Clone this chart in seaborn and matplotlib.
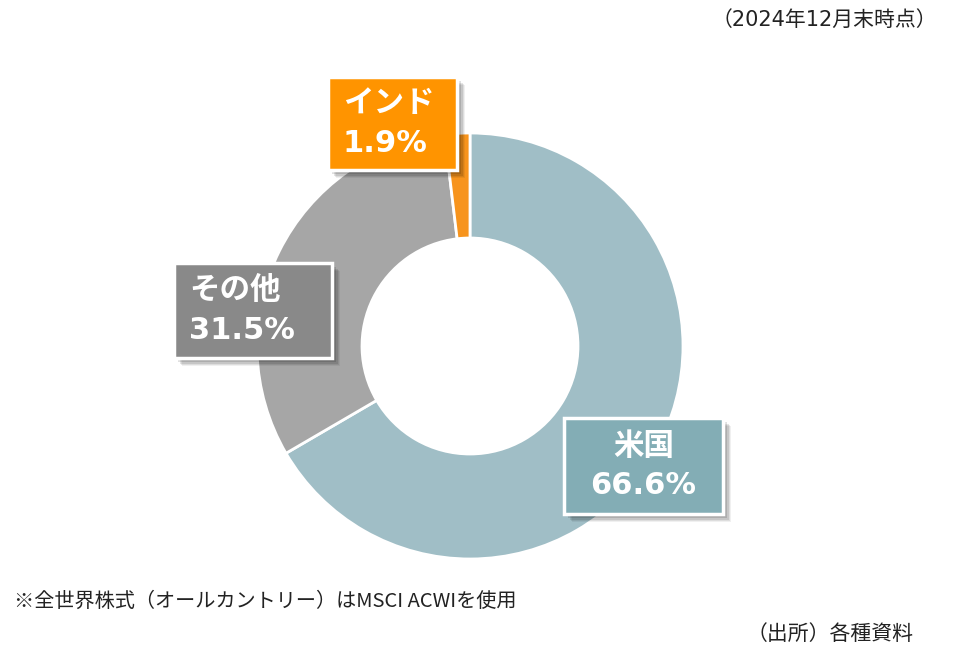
import matplotlib.pyplot as plt
import matplotlib.patheffects as pe
from matplotlib.patches import Rectangle
import seaborn as sns

sns.set_theme(style="white")
plt.rcParams["font.family"] = ["Noto Sans CJK JP", "DejaVu Sans"]

# data
regions = ["米国", "その他", "インド"]
shares = [66.6, 31.5, 1.9]
wedge_colors = ["#A0BEC6", "#A6A6A6", "#F7941D"]
box_colors = ["#83ADB5", "#898989", "#FF9400"]

# label boxes in figure pixels: left, top, right, bottom ; text alignment
boxes = [(564, 418, 723, 514), (174, 263, 332, 358), (328, 77, 457, 170)]
text_align = ["center", "left", "left"]

W, H = 972, 664
fig = plt.figure(figsize=(W / 100, H / 100), dpi=100)

cx, cy, r = 470, 346, 213
ax = fig.add_axes([(cx - r) / W, (H - cy - r) / H, 2 * r / W, 2 * r / H])
ax.pie(
    shares,
    colors=wedge_colors,
    startangle=90,
    counterclock=False,
    radius=1,
    wedgeprops=dict(width=0.493, edgecolor="white", linewidth=2),
)
ax.set_xlim(-1, 1)
ax.set_ylim(-1, 1)
ax.set_aspect("equal")
ax.axis("off")

lab_font = ["DejaVu Sans", "Noto Sans CJK JP"]
# soft drop shadow: a few faint offset copies
shadow = [pe.SimplePatchShadow(offset=(o, -o), shadow_rgbFace="black", alpha=a)
          for o, a in [(6, 0.06), (5, 0.08), (4, 0.1), (3, 0.12)]]
for name, val, bc, (x0, y0, x1, y1), al in zip(regions, shares, box_colors, boxes, text_align):
    rect = Rectangle((x0 / W, 1 - y1 / H), (x1 - x0) / W, (y1 - y0) / H,
                     transform=fig.transFigure, fc=bc, ec="white", lw=2.5, zorder=5)
    rect.set_path_effects(shadow + [pe.Normal()])
    fig.patches.append(rect)
    mid = (y0 + y1) / 2
    tx = (x0 + x1) / 2 if al == "center" else x0 + 15
    for line, dy in [(name, -20), (f"{val:.1f}%", 20)]:
        fig.text(tx / W, 1 - (mid + dy) / H, line, ha=al, va="center", color="white",
                 fontsize=22, fontweight="bold", family=lab_font, zorder=6)

fig.text(712 / W, 1 - 20 / H, "（2024年12月末時点）", ha="left", va="center",
         fontsize=15, color="#222222", family=lab_font)
fig.text(14 / W, 1 - 601 / H, "※全世界株式（オールカントリー）はMSCI ACWIを使用",
         ha="left", va="center", fontsize=14.5, color="#222222")
fig.text(747 / W, 1 - 634 / H, "（出所）各種資料", ha="left", va="center",
         fontsize=15, color="#222222")

fig.savefig("out.png", dpi=100, facecolor="white")
